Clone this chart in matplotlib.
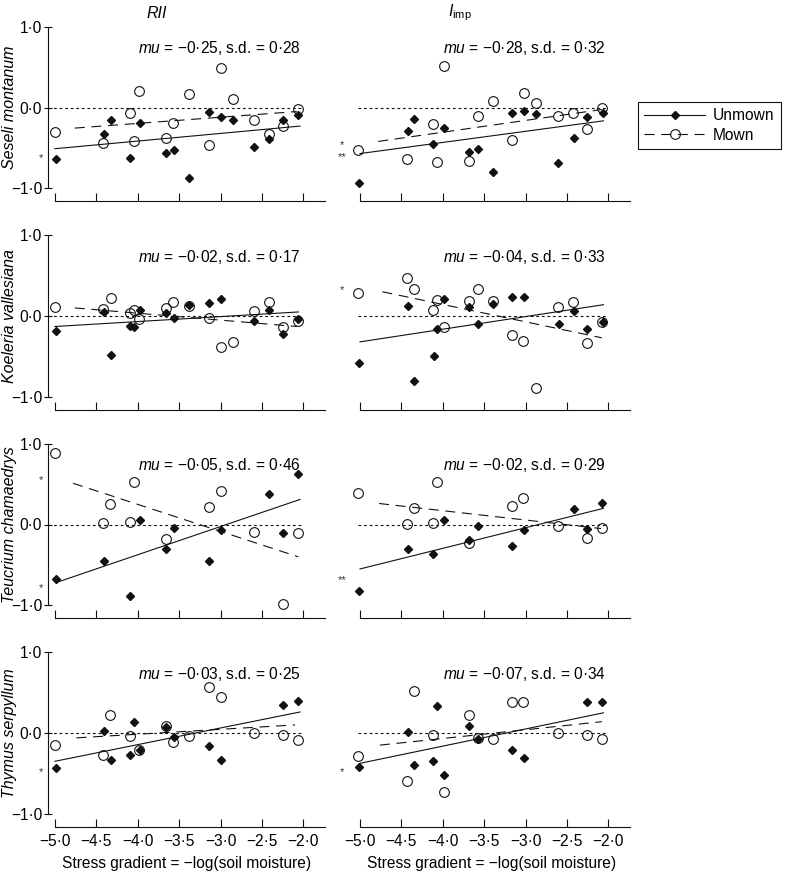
import matplotlib
matplotlib.use("Agg")
import matplotlib.pyplot as plt
from matplotlib.lines import Line2D
import matplotlib.transforms as mtransforms

plt.rcParams['font.family'] = ['Liberation Sans', 'DejaVu Sans']
plt.rcParams['mathtext.fontset'] = 'custom'
plt.rcParams['mathtext.rm'] = 'Liberation Sans'
plt.rcParams['mathtext.it'] = 'Liberation Sans:italic'
plt.rcParams['mathtext.bf'] = 'Liberation Sans:bold'

# ---------------- data ----------------
species = ["Seseli montanum", "Koeleria vallesiana", "Teucrium chamaedrys", "Thymus serpyllum"]
column_titles = ["RII", r"$\it{I}_{\rm{imp}}$"]
x_ticks = [-5.0, -4.5, -4.0, -3.5, -3.0, -2.5, -2.0]
y_ticks = [-1.0, 0.0, 1.0]
x_label = "Stress gradient = \u2212log(soil moisture)"

mu_values = [[-0.25, -0.28], [-0.02, -0.04], [-0.05, -0.02], [-0.03, -0.07]]
sd_values = [[0.28, 0.32], [0.17, 0.33], [0.46, 0.29], [0.25, 0.34]]

# Seseli montanum
seseli_rii_unmown_x = [-4.99, -4.41, -4.32, -4.09, -3.97, -3.66, -3.56, -3.38, -3.14, -3.00, -2.85, -2.59, -2.42, -2.25, -2.06]
seseli_rii_unmown_y = [-0.64, -0.33, -0.15, -0.63, -0.19, -0.56, -0.52, -0.87, -0.05, -0.12, -0.16, -0.49, -0.39, -0.16, -0.09]
seseli_rii_mown_x = [-5.00, -4.42, -4.09, -4.05, -3.98, -3.66, -3.57, -3.38, -3.14, -3.00, -2.85, -2.59, -2.42, -2.25, -2.07]
seseli_rii_mown_y = [-0.30, -0.44, -0.07, -0.41, 0.21, -0.38, -0.19, 0.17, -0.46, 0.49, 0.10, -0.15, -0.33, -0.23, -0.02]
seseli_imp_unmown_x = [-5.01, -4.42, -4.35, -4.12, -3.99, -3.68, -3.57, -3.39, -3.16, -3.02, -2.88, -2.61, -2.42, -2.26, -2.07]
seseli_imp_unmown_y = [-0.94, -0.29, -0.14, -0.45, -0.25, -0.55, -0.51, -0.80, -0.07, -0.04, -0.08, -0.69, -0.38, -0.12, -0.07]
seseli_imp_mown_x = [-5.02, -4.43, -4.12, -4.07, -3.99, -3.68, -3.57, -3.39, -3.16, -3.02, -2.88, -2.61, -2.43, -2.26, -2.08]
seseli_imp_mown_y = [-0.53, -0.64, -0.20, -0.67, 0.51, -0.66, -0.11, 0.08, -0.40, 0.18, 0.06, -0.10, -0.07, -0.27, 0.00]

# Koeleria vallesiana
koeleria_rii_unmown_x = [-4.99, -4.41, -4.32, -4.09, -4.05, -3.97, -3.66, -3.56, -3.38, -3.14, -3.00, -2.59, -2.42, -2.25, -2.06]
koeleria_rii_unmown_y = [-0.18, 0.05, -0.48, -0.12, -0.14, 0.08, 0.04, -0.03, 0.14, 0.16, 0.21, -0.06, 0.07, -0.22, -0.04]
koeleria_rii_mown_x = [-5.00, -4.42, -4.32, -4.09, -4.05, -3.98, -3.66, -3.57, -3.38, -3.14, -3.00, -2.85, -2.59, -2.42, -2.25, -2.07]
koeleria_rii_mown_y = [0.11, 0.09, 0.22, 0.04, 0.08, -0.04, 0.10, 0.17, 0.12, -0.03, -0.38, -0.32, 0.06, 0.17, -0.13, -0.06]
koeleria_imp_unmown_x = [-5.01, -4.42, -4.35, -4.11, -4.07, -3.98, -3.68, -3.57, -3.39, -3.16, -3.02, -2.60, -2.42, -2.26, -2.07]
koeleria_imp_unmown_y = [-0.58, 0.12, -0.80, -0.49, -0.16, 0.21, 0.11, -0.10, 0.15, 0.23, 0.23, -0.10, 0.06, -0.16, -0.08]
koeleria_imp_mown_x = [-5.02, -4.43, -4.35, -4.12, -4.07, -3.99, -3.68, -3.57, -3.39, -3.16, -3.03, -2.88, -2.61, -2.43, -2.26, -2.08]
koeleria_imp_mown_y = [0.29, 0.47, 0.33, 0.07, 0.20, -0.13, 0.19, 0.33, 0.18, -0.24, -0.31, -0.89, 0.11, 0.17, -0.33, -0.08]

# Teucrium chamaedrys
teucrium_rii_unmown_x = [-4.99, -4.41, -4.09, -3.97, -3.66, -3.56, -3.14, -3.00, -2.42, -2.25, -2.06]
teucrium_rii_unmown_y = [-0.67, -0.45, -0.88, 0.06, -0.30, -0.04, -0.45, -0.07, 0.38, -0.10, 0.62]
teucrium_rii_mown_x = [-5.00, -4.42, -4.33, -4.09, -4.05, -3.66, -3.14, -3.00, -2.59, -2.25, -2.07]
teucrium_rii_mown_y = [0.88, 0.02, 0.25, 0.03, 0.52, -0.18, 0.22, 0.42, -0.09, -0.98, -0.10]
teucrium_imp_unmown_x = [-5.01, -4.42, -4.12, -3.98, -3.68, -3.57, -3.16, -3.02, -2.42, -2.26, -2.08]
teucrium_imp_unmown_y = [-0.82, -0.30, -0.36, 0.05, -0.19, -0.02, -0.27, -0.07, 0.19, -0.05, 0.27]
teucrium_imp_mown_x = [-5.02, -4.43, -4.35, -4.12, -4.07, -3.68, -3.16, -3.03, -2.61, -2.26, -2.08]
teucrium_imp_mown_y = [0.39, 0.01, 0.20, 0.02, 0.52, -0.23, 0.23, 0.33, -0.02, -0.17, -0.04]

# Thymus serpyllum
thymus_rii_unmown_x = [-4.99, -4.41, -4.32, -4.09, -4.05, -3.97, -3.66, -3.56, -3.14, -3.00, -2.25, -2.06]
thymus_rii_unmown_y = [-0.43, 0.02, -0.33, -0.27, 0.13, -0.21, 0.07, -0.05, -0.16, -0.34, 0.35, 0.40]
thymus_rii_mown_x = [-5.00, -4.42, -4.33, -4.09, -3.98, -3.66, -3.57, -3.38, -3.14, -3.00, -2.59, -2.25, -2.07]
thymus_rii_mown_y = [-0.15, -0.27, 0.22, -0.04, -0.21, 0.09, -0.11, -0.04, 0.57, 0.45, 0.00, -0.03, -0.09]
thymus_imp_unmown_x = [-5.01, -4.42, -4.35, -4.12, -4.07, -3.98, -3.68, -3.57, -3.16, -3.02, -2.26, -2.08]
thymus_imp_unmown_y = [-0.42, 0.01, -0.40, -0.35, 0.33, -0.52, 0.09, -0.07, -0.21, -0.31, 0.38, 0.38]
thymus_imp_mown_x = [-5.02, -4.43, -4.35, -4.12, -3.99, -3.68, -3.57, -3.39, -3.16, -3.03, -2.61, -2.26, -2.08]
thymus_imp_mown_y = [-0.29, -0.60, 0.52, -0.03, -0.73, 0.22, -0.06, -0.08, 0.38, 0.38, 0.00, -0.03, -0.07]

# regression line end points (x0, y0, x1, y1)
unmown_fit_lines = [
    [(-5.00, -0.51, -2.04, -0.23), (-5.00, -0.57, -2.06, -0.165)],
    [(-5.00, -0.13, -2.06, 0.05), (-5.00, -0.32, -2.06, 0.14)],
    [(-4.99, -0.72, -2.04, 0.31), (-5.00, -0.55, -2.06, 0.20)],
    [(-5.00, -0.35, -2.04, 0.26), (-5.00, -0.375, -2.06, 0.25)],
]
mown_fit_lines = [
    [(-4.76, -0.255, -2.08, -0.05), (-4.78, -0.42, -2.08, -0.025)],
    [(-4.76, 0.10, -2.08, -0.13), (-4.73, 0.30, -2.08, -0.27)],
    [(-4.78, 0.51, -2.06, -0.40), (-4.77, 0.26, -2.09, -0.05)],
    [(-4.74, -0.06, -2.10, 0.10), (-4.76, -0.15, -2.08, 0.14)],
]

# significance stars: (row, column, y, text)
significance = [(0, 0, -0.58, "*"), (0, 1, -0.42, "*"), (0, 1, -0.57, "**"),
                (1, 1, 0.36, "*"), (2, 0, 0.59, "*"), (2, 0, -0.75, "*"),
                (2, 1, -0.65, "**"), (3, 0, -0.44, "*"), (3, 1, -0.44, "*")]

panels = [
    [(seseli_rii_unmown_x, seseli_rii_unmown_y, seseli_rii_mown_x, seseli_rii_mown_y),
     (seseli_imp_unmown_x, seseli_imp_unmown_y, seseli_imp_mown_x, seseli_imp_mown_y)],
    [(koeleria_rii_unmown_x, koeleria_rii_unmown_y, koeleria_rii_mown_x, koeleria_rii_mown_y),
     (koeleria_imp_unmown_x, koeleria_imp_unmown_y, koeleria_imp_mown_x, koeleria_imp_mown_y)],
    [(teucrium_rii_unmown_x, teucrium_rii_unmown_y, teucrium_rii_mown_x, teucrium_rii_mown_y),
     (teucrium_imp_unmown_x, teucrium_imp_unmown_y, teucrium_imp_mown_x, teucrium_imp_mown_y)],
    [(thymus_rii_unmown_x, thymus_rii_unmown_y, thymus_rii_mown_x, thymus_rii_mown_y),
     (thymus_imp_unmown_x, thymus_imp_unmown_y, thymus_imp_mown_x, thymus_imp_mown_y)],
]

# ---------------- layout / style ----------------
W, H = 785, 881
fig = plt.figure(figsize=(W / 100, H / 100), dpi=100)

XLIM = (-5.08, -1.74)
YLIM = (-1.16, 1.02)
x_unit = 82.8
y_unit = 80.8
ax_w = (XLIM[1] - XLIM[0]) * x_unit
ax_h = (YLIM[1] - YLIM[0]) * y_unit
col_left = [48.3, 353.4]
row_y1 = [26.7, 235.2, 443.7, 652.2]

LW = 0.8
BLACK = "#111111"
FS = 11.2


def fmt(v):
    s = f"{v:.1f}"
    return s.replace("-", "\u2212").replace(".", "\u00b7")


def fmt2(v):
    s = f"{v:.2f}"
    return s.replace("-", "\u2212").replace(".", "\u00b7")


for r in range(4):
    for c in range(2):
        top = row_y1[r] - (YLIM[1] - 1.0) * y_unit
        ax = fig.add_axes([col_left[c] / W, 1 - (top + ax_h) / H, ax_w / W, ax_h / H])
        ax.set_xlim(*XLIM)
        ax.set_ylim(*YLIM)
        ax.patch.set_alpha(0)
        for s in ("top", "right"):
            ax.spines[s].set_visible(False)
        ax.spines["bottom"].set_bounds(x_ticks[0], XLIM[1])
        ax.spines["bottom"].set_linewidth(LW)
        ax.spines["bottom"].set_color(BLACK)
        ax.set_xticks(x_ticks)
        ax.tick_params(axis="x", direction="in", length=5.5, width=LW, pad=5.5,
                       labelsize=FS, color=BLACK)
        if r == 3:
            ax.set_xticklabels([fmt(v) for v in x_ticks])
            ax.set_xlabel(x_label, fontsize=FS, labelpad=5)
        else:
            ax.set_xticklabels([])
        if c == 0:
            ax.spines["left"].set_bounds(-1, 1)
            ax.spines["left"].set_linewidth(LW)
            ax.spines["left"].set_color(BLACK)
            ax.set_yticks(y_ticks)
            ax.set_yticklabels([fmt(v) for v in y_ticks])
            ax.tick_params(axis="y", direction="inout", length=6, width=LW, pad=1.5,
                           labelsize=FS, color=BLACK)
        else:
            ax.spines["left"].set_visible(False)
            ax.set_yticks([])

        # zero reference line
        zx0 = XLIM[0] if c == 0 else -5.03
        ax.plot([zx0, -2.02], [0, 0], ls=(0, (2.5, 2.5)), lw=LW, color=BLACK, zorder=1)

        ux, uy, mx, my = panels[r][c]
        l = unmown_fit_lines[r][c]
        ax.plot([l[0], l[2]], [l[1], l[3]], color=BLACK, lw=LW, zorder=2)
        l = mown_fit_lines[r][c]
        ax.plot([l[0], l[2]], [l[1], l[3]], color=BLACK, lw=LW, ls=(0, (9, 6)), zorder=2)

        ax.plot(mx, my, ls="none", marker="o", ms=7, mfc="none", mec=BLACK, mew=0.8, zorder=3)
        ax.plot(ux, uy, ls="none", marker="D", ms=4.5, mfc=BLACK, mec=BLACK, zorder=4)

        ax.text(-2.03, 0.735, r"$\it{mu}$ = " + fmt2(mu_values[r][c]) + ", s.d. = " + fmt2(sd_values[r][c]),
                ha="right", va="center", fontsize=FS)

        for (sr, sc, sy, st) in significance:
            if sr == r and sc == c:
                sx = -5.17 if c == 0 else -5.22
                tr = mtransforms.offset_copy(ax.transData, fig=fig, y=-0.57 * 8, units="points")
                ax.text(sx, sy, st, transform=tr, ha="center", va="baseline", fontsize=8,
                        color="#333333", clip_on=False)

        if c == 0:
            trb = mtransforms.blended_transform_factory(fig.transFigure, ax.transData)
            ax.text(10 / W, 0.0, species[r], transform=trb, rotation=90, style="italic",
                    ha="center", va="center", fontsize=11.5)

# column titles
fig.text(157 / W, 1 - 13 / H, column_titles[0], style="italic", ha="center", va="center", fontsize=11.5)
fig.text(460 / W, 1 - 13 / H, column_titles[1], ha="center", va="center", fontsize=11.5)

# legend
handles = [
    Line2D([], [], color=BLACK, lw=LW, marker="D", ms=4.5, mfc=BLACK, label="Unmown"),
    Line2D([], [], color=BLACK, lw=LW, ls=(0, (9, 6)), marker="o", ms=7, mfc="none", mew=0.8, label="Mown"),
]
leg = fig.legend(handles=handles, loc="upper left", bbox_to_anchor=(638 / W, 1 - 102 / H),
                 bbox_transform=fig.transFigure, frameon=True, fancybox=False,
                 edgecolor=BLACK, framealpha=1, fontsize=FS, handlelength=3.9,
                 handletextpad=0.5, borderaxespad=0, borderpad=0.4, labelspacing=0.3)
leg.get_frame().set_linewidth(LW)

fig.savefig("out.png", dpi=100)
